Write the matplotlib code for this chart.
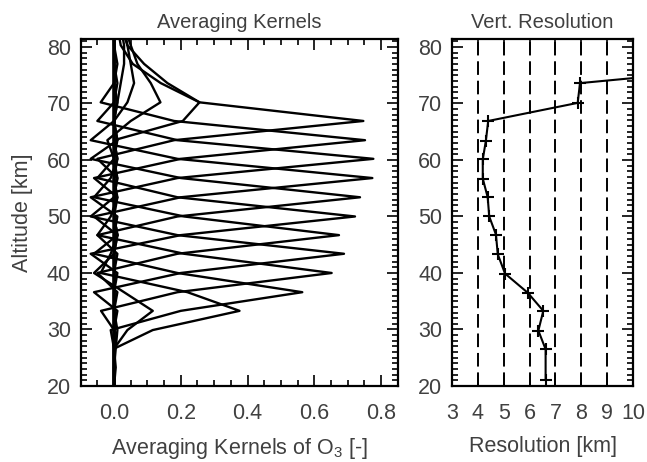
import numpy as np
import matplotlib
matplotlib.use('Agg')
from matplotlib import pyplot as plt
from matplotlib.ticker import MultipleLocator, FormatStrFormatter

plt.rcParams['font.family'] = ['Liberation Sans', 'DejaVu Sans']
plt.rcParams['mathtext.fontset'] = 'custom'
plt.rcParams['mathtext.rm'] = 'Liberation Sans'
txtCol = '#404040'

# retrieval grid [km]
altitude = [20.0, 23.3, 26.6, 29.9, 33.3, 36.6, 40.0, 43.4, 46.7, 50.0,
            53.4, 56.8, 60.2, 63.5, 66.9, 70.2, 73.6, 77.0, 80.3, 83.7]

# averaging kernel rows (one per retrieval level)
kernels = [
    [0.0, 0.0, 0.0, 0.0, 0.0, 0.0, 0.0, 0.0, 0.0, 0.0, 0.0, 0.0, 0.0, 0.0, 0.0, 0.0, 0.0, 0.0, 0.0, 0.0],
    [0.0, 0.005, 0.0, 0.0, 0.0, 0.0, 0.0, 0.0, 0.0, 0.0, 0.0, 0.0, 0.0, 0.0, 0.0, 0.0, 0.0, 0.0, 0.0, 0.0],
    [0.0, 0.0, 0.005, 0.01, 0.0, 0.0, 0.0, 0.0, 0.0, 0.0, 0.0, 0.0, 0.0, 0.0, 0.0, 0.0, 0.0, 0.0, 0.0, 0.0],
    [0.0, 0.0, 0.0, 0.04, 0.116, 0.03, -0.06, 0.0, 0.01, 0.0, 0.0, 0.0, 0.0, 0.0, 0.0, 0.0, 0.0, 0.0, 0.0, 0.0],
    [0.0, 0.0, 0.0, 0.116, 0.376, 0.22, -0.04, -0.01, 0.01, 0.0, 0.0, 0.0, 0.0, 0.0, 0.0, 0.0, 0.0, 0.0, 0.0, 0.0],
    [0.0, 0.0, 0.0, -0.01, 0.20, 0.564, 0.19, -0.06, 0.01, 0.0, 0.005, 0.0, 0.0, 0.0, 0.0, 0.0, 0.0, 0.0, 0.0, 0.0],
    [0.0, 0.0, 0.0, 0.0, -0.039, 0.19, 0.652, 0.21, -0.05, -0.01, 0.01, 0.0, 0.0, 0.0, 0.0, 0.0, 0.0, 0.0, 0.0, 0.0],
    [0.0, 0.0, 0.0, 0.0, 0.01, -0.06, 0.20, 0.689, 0.19, -0.07, 0.0, 0.01, 0.0, 0.0, 0.0, 0.0, 0.0, 0.0, 0.0, 0.0],
    [0.0, 0.0, 0.0, 0.0, 0.0, 0.01, -0.05, 0.19, 0.674, 0.21, -0.06, -0.01, 0.01, 0.0, 0.0, 0.0, 0.0, 0.0, 0.0, 0.0],
    [0.0, 0.0, 0.0, 0.0, 0.0, 0.0, 0.01, -0.07, 0.20, 0.722, 0.19, -0.05, 0.0, 0.01, 0.0, 0.0, 0.0, 0.0, 0.0, 0.0],
    [0.0, 0.0, 0.0, 0.0, 0.0, 0.0, 0.0, 0.01, -0.05, 0.19, 0.737, 0.20, -0.07, 0.01, 0.0, 0.0, 0.0, 0.0, 0.0, 0.0],
    [0.0, 0.0, 0.0, 0.0, 0.0, 0.0, 0.0, 0.0, 0.01, -0.06, 0.20, 0.774, 0.19, -0.07, 0.0, 0.01, 0.0, 0.0, 0.0, 0.0],
    [0.0, 0.0, 0.0, 0.0, 0.0, 0.0, 0.0, 0.0, 0.0, 0.01, -0.07, 0.19, 0.777, 0.19, -0.05, 0.0, 0.01, 0.0, 0.0, 0.0],
    [0.0, 0.0, 0.0, 0.0, 0.0, 0.0, 0.0, 0.0, 0.0, 0.0, 0.01, -0.06, 0.20, 0.752, 0.18, -0.04, 0.0, 0.01, 0.0, 0.0],
    [0.0, 0.0, 0.0, 0.0, 0.0, 0.0, 0.0, 0.0, 0.0, 0.0, 0.0, 0.01, -0.05, 0.18, 0.747, 0.256, 0.14, 0.056, 0.02, 0.01],
    [0.0, 0.0, 0.0, 0.0, 0.0, 0.0, 0.0, 0.0, 0.0, 0.0, 0.0, 0.0, 0.01, 0.0, 0.206, 0.256, 0.16, 0.09, 0.04, 0.02],
    [0.0, 0.0, 0.0, 0.0, 0.0, 0.0, 0.0, 0.0, 0.0, 0.0, 0.0, 0.0, 0.0, -0.02, 0.05, 0.139, 0.11, 0.07, 0.05, 0.03],
    [0.0, 0.0, 0.0, 0.0, 0.0, 0.0, 0.0, 0.0, 0.0, 0.0, 0.0, 0.0, 0.0, 0.0, 0.0, 0.04, 0.06, 0.05, 0.04, 0.03],
    [0.0, 0.0, 0.0, 0.0, 0.0, 0.0, 0.0, 0.0, 0.0, 0.0, 0.0, 0.0, 0.0, 0.0, 0.0, 0.01, 0.02, 0.03, 0.03, 0.02],
]

# vertical resolution [km] vs altitude [km]
resAlt = [21.1, 26.5, 29.8, 33.3, 36.5, 39.9, 43.3, 46.8, 50.0, 53.4,
          56.7, 60.1, 63.4, 66.9, 70.1, 73.6, 77.0]
resKm = [6.62, 6.62, 6.34, 6.53, 5.93, 5.05, 4.77, 4.70, 4.44, 4.38,
         4.19, 4.19, 4.31, 4.40, 7.86, 7.95, 15.8]
dashX = [4, 5, 6, 7, 8, 9]


def style_axes(ax):
    ax.tick_params(which='both', direction='in', top=True, right=True,
                   colors='black', labelcolor=txtCol, labelsize=15.5, width=1.2)
    ax.tick_params(which='major', length=8)
    ax.tick_params(which='minor', length=4)
    ax.tick_params(axis='x', pad=12)
    ax.tick_params(axis='y', pad=7)
    for s in ax.spines.values():
        s.set_linewidth(1.6)


fig = plt.figure(figsize=(6.47, 4.62), dpi=100)
ax1 = fig.add_axes([0.1247, 0.1645, 0.4900, 0.7510])
ax2 = fig.add_axes([0.6986, 0.1645, 0.2798, 0.7510])

for k in kernels:
    ax1.plot(k, altitude, color='black', lw=1.7)
ax1.set_xlim(-0.1, 0.85)
ax1.set_ylim(20, 81.4)
ax1.xaxis.set_major_locator(MultipleLocator(0.2))
ax1.xaxis.set_minor_locator(MultipleLocator(0.05))
ax1.xaxis.set_major_formatter(FormatStrFormatter('%.1f'))
ax1.yaxis.set_major_locator(MultipleLocator(10))
ax1.yaxis.set_minor_locator(MultipleLocator(1))
style_axes(ax1)
ax1.set_title('Averaging Kernels', fontsize=14.5, color=txtCol, pad=8)
ax1.set_xlabel(r'Averaging Kernels of O$_\mathregular{3}$ [-]', fontsize=15.5,
               color=txtCol, labelpad=9)
ax1.set_ylabel('Altitude [km]', fontsize=15.5, color=txtCol, labelpad=10)

for x in dashX:
    ax2.axvline(x, color='black', lw=1.4, ls=(0, (7, 3)))
ax2.plot(resKm, resAlt, color='black', lw=1.5, marker='+', ms=9, mew=1.5)
ax2.set_xlim(3, 10)
ax2.set_ylim(20, 81.4)
ax2.xaxis.set_major_locator(MultipleLocator(1))
ax2.yaxis.set_major_locator(MultipleLocator(10))
ax2.yaxis.set_minor_locator(MultipleLocator(1))
style_axes(ax2)
ax2.set_title('Vert. Resolution', fontsize=14.5, color=txtCol, pad=8)
ax2.set_xlabel('Resolution [km]', fontsize=15.5, color=txtCol, labelpad=9)

fig.savefig('out.png', dpi=100)
